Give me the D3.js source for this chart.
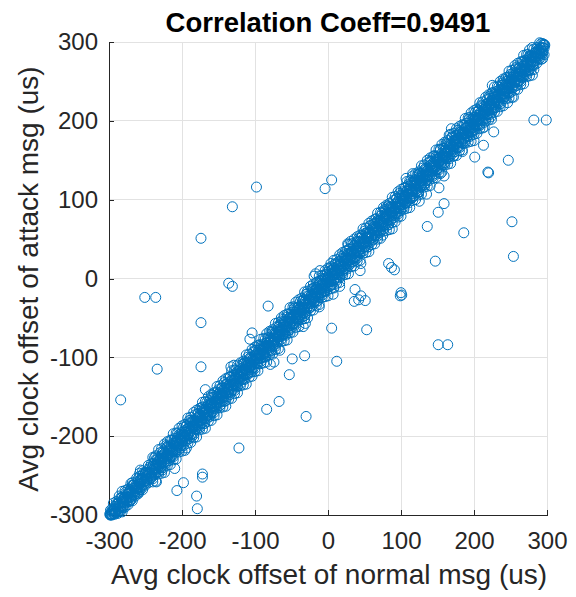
<!DOCTYPE html>
<html>
<head>
<meta charset="utf-8">
<script src="https://cdn.jsdelivr.net/npm/d3@7"></script>
<style>
  body { margin: 0; background: #fff; }
  svg { display: block; }
  text { font-family: "Liberation Sans", Arial, Helvetica, sans-serif; }
</style>
</head>
<body>
<svg id="chart" width="576" height="597"></svg>
<script>
// Labels and ticks
const chartTitle = "Correlation Coeff=0.9491";
const xLabel = "Avg clock offset of normal msg (us)";
const yLabel = "Avg clock offset of attack msg (us)";
const axisTicks = [-300, -200, -100, 0, 100, 200, 300];

// Paired samples along the main diagonal band (normal msg offset, attack msg offset)
const denseNormal = [
  -299,-298,-296,-295,-293,-292,-290,-289, -287,-286,-284,-283,-281,-280,-278,-277,
  -275,-274,-272,-271,-269,-268,-266,-265, -263,-262,-260,-259,-257,-256,-254,-253,
  -251,-250,-248,-247,-245,-244,-242,-241, -239,-238,-236,-235,-233,-232,-230,-229,
  -227,-226,-224,-223,-221,-220,-218,-217, -215,-214,-212,-211,-209,-208,-206,-205,
  -203,-202,-200,-199,-197,-196,-194,-193, -191,-190,-188,-187,-185,-184,-182,-181,
  -179,-178,-176,-175,-173,-172,-170,-169, -167,-166,-164,-163,-161,-160,-158,-157,
  -155,-154,-152,-151,-149,-148,-146,-145, -143,-142,-140,-139,-137,-136,-134,-133,
  -131,-130,-128,-127,-125,-124,-122,-121, -119,-118,-116,-115,-113,-112,-110,-109,
  -107,-106,-104,-103,-101,-100,-98,-97, -95,-94,-92,-91,-89,-88,-86,-85,
  -83,-82,-80,-79,-77,-76,-74,-73, -71,-70,-68,-67,-65,-64,-62,-61,
  -59,-58,-56,-55,-53,-52,-50,-49, -47,-46,-44,-43,-41,-40,-38,-37,
  -35,-34,-32,-31,-29,-28,-26,-25, -23,-22,-20,-19,-17,-16,-14,-13,
  -11,-10,-8,-7,-5,-4,-2,-1, 1,2,4,5,7,8,10,11,
  13,14,16,17,19,20,22,23, 25,26,28,29,31,32,34,35,
  37,38,40,41,43,44,46,47, 49,50,52,53,55,56,58,59,
  61,62,64,65,67,68,70,71, 73,74,76,77,79,80,82,83,
  85,86,88,89,91,92,94,95, 97,98,100,101,103,104,106,107,
  109,110,112,113,115,116,118,119, 121,122,124,125,127,128,130,131,
  133,134,136,137,139,140,142,143, 145,146,148,149,151,152,154,155,
  157,158,160,161,163,164,166,167, 169,170,172,173,175,176,178,179,
  181,182,184,185,187,188,190,191, 193,194,196,197,199,200,202,203,
  205,206,208,209,211,212,214,215, 217,218,220,221,223,224,226,227,
  229,230,232,233,235,236,238,239, 241,242,244,245,247,248,250,251,
  253,254,256,257,259,260,262,263, 265,266,268,269,271,272,274,275,
  277,278,280,281,283,284,286,287, 289,290,292,293,295,296
];
const denseAttack = [
  -299,-299,-293,-299,-292,-298,-286,-292, -295,-284,-289,-278,-291,-280,-281,-271,
  -282,-273,-283,-268,-271,-274,-262,-274, -263,-266,-254,-271,-255,-264,-249,-254,
  -257,-247,-258,-246,-248,-239,-250,-243, -235,-249,-236,-240,-227,-239,-228,-242,
  -228,-221,-233,-221,-225,-213,-224,-229, -212,-217,-220,-205,-209,-218,-202,-210,
  -204,-215,-195,-206,-195,-200,-187,-203, -190,-196,-180,-201,-187,-180,-191,-181,
  -183,-172,-187,-173,-180,-163,-171,-184, -164,-174,-159,-166,-173,-159,-151,-163,
  -165,-154,-144,-156,-145,-161,-148,-139, -151,-140,-155,-134,-141,-137,-125,-144,
  -130,-136,-121,-136,-122,-137,-125,-116, -126,-118,-128,-107,-115,-108,-120,-107,
  -112,-100,-118,-102,-109,-91,-101,-108, -91,-95,-101,-84,-95,-86,-99,-85,
  -78,-86,-90,-76,-92,-68,-76,-80, -70,-82,-62,-72,-66,-55,-70,-58,
  -70,-61,-49,-69,-51,-58,-45,-58, -47,-38,-51,-45,-54,-36,-48,-36,
  -29,-39,-47,-28,-37,-19,-27,-37, -21,-26,-13,-29,-18,-11,-28,-19,
  -3,-19,-7,-10,-17,0,-9,8, -4,5,-9,5,13,-2,8,18,
  5,16,1,22,15,9,30,22, 19,30,16,38,28,33,25,41,
  23,36,47,34,46,33,46,55, 44,40,57,52,40,58,67,51,
  62,50,70,61,60,72,68,58, 80,68,76,67,82,77,91,68,
  84,91,79,91,86,80,102,92, 89,102,86,102,110,98,95,110,
  107,119,102,118,111,103,118,125, 114,124,109,133,124,119,134,130,
  121,140,131,138,131,149,140,129, 148,140,155,138,151,148,164,146,
  156,144,165,155,171,161,155,169, 161,180,156,174,170,182,166,177,
  185,173,184,171,194,184,192,181, 202,188,195,182,204,189,205,200,
  197,212,195,210,219,207,198,215, 221,208,218,231,216,210,229,223,
  217,237,231,225,240,221,239,248, 235,231,246,242,255,235,250,257,
  244,257,251,266,245,259,267,256, 266,255,275,265,263,276,272,263,
  283,272,280,271,286,281,291,280, 291,285,293,289,297,296
];

// Tighter samples in the middle of the band
const coreNormal = [
  -297,-294,-291,-288,-285,-282,-279,-276,-273,-270,-267,-264,-261,
  -258,-255,-252,-249,-246,-243,-240,-237,-234,-231,-228,-225,-222,
  -219,-216,-213,-210,-207,-204,-201,-198,-195,-192,-189,-186,-183,
  -180,-177,-174,-171,-168,-165,-162,-159,-156,-153,-150,-147,-144,
  -141,-138,-135,-132,-129,-126,-123,-120,-117,-114,-111,-108,-105,
  -102,-99,-96,-93,-90,-87,-84,-81,-78,-75,-72,-69,-66,
  -63,-60,-57,-54,-51,-48,-45,-42,-39,-36,-33,-30,-27,
  -24,-21,-18,-15,-12,-9,-6,-3,0,3,6,9,12,
  15,18,21,24,27,30,33,36,39,42,45,48,51,
  54,57,60,63,66,69,72,75,78,81,84,87,90,
  93,96,99,102,105,108,111,114,117,120,123,126,129,
  132,135,138,141,144,147,150,153,156,159,162,165,168,
  171,174,177,180,183,186,189,192,195,198,201,204,207,
  210,213,216,219,222,225,228,231,234,237,240,243,246,
  249,252,255,258,261,264,267,270,273,276,279,282,285,
  288,291,294,297
];
const coreAttack = [
  -299,-293,-297,-285,-286,-289,-277,-280,-273,-277,-262,-266,-266,
  -261,-254,-258,-246,-247,-252,-238,-241,-234,-238,-225,-227,-227,
  -222,-215,-219,-207,-208,-210,-199,-202,-195,-199,-184,-188,-188,
  -183,-176,-180,-168,-169,-174,-160,-163,-156,-160,-147,-149,-149,
  -144,-137,-141,-129,-130,-133,-121,-124,-117,-121,-106,-110,-110,
  -105,-98,-102,-90,-91,-96,-82,-85,-78,-82,-69,-71,-71,
  -66,-59,-63,-51,-52,-54,-43,-46,-39,-43,-27,-32,-32,
  -27,-20,-24,-12,-13,-18,-4,-7,0,-4,11,7,7,
  12,19,15,27,26,23,35,32,39,35,51,46,46,
  51,58,54,66,65,60,74,71,78,74,87,85,85,
  90,97,93,105,104,98,113,110,117,113,129,124,124,
  129,136,132,144,143,141,152,149,156,152,167,163,163,
  168,175,171,183,182,177,191,188,195,191,204,202,202,
  207,214,210,222,221,215,230,227,234,230,246,241,241,
  246,253,249,261,260,257,269,266,273,269,282,280,280,
  285,292,288,296
];

// Normal-msg offsets shared by three attack-msg readings each (lower, middle, upper part of the band)
const bandNormal = [
  -298,-296,-294,-292,-290,-288,-286,-284,-282,-280,-278,-276,-274,-272,-270,-268,
  -266,-264,-262,-260,-258,-256,-254,-252,-250,-248,-246,-244,-242,-240,-238,-236,
  -234,-232,-230,-228,-226,-224,-222,-220,-218,-216,-214,-212,-210,-208,-206,-204,
  -202,-200,-198,-196,-194,-192,-190,-188,-186,-184,-182,-180,-178,-176,-174,-172,
  -170,-168,-166,-164,-162,-160,-158,-156,-154,-152,-150,-148,-146,-144,-142,-140,
  -138,-136,-134,-132,-130,-128,-126,-124,-122,-120,-118,-116,-114,-112,-110,-108,
  -106,-104,-102,-100,-98,-96,-94,-92,-90,-88,-86,-84,-82,-80,-78,-76,
  -74,-72,-70,-68,-66,-64,-62,-60,-58,-56,-54,-52,-50,-48,-46,-44,
  -42,-40,-38,-36,-34,-32,-30,-28,-26,-24,-22,-20,-18,-16,-14,-12,
  -10,-8,-6,-4,-2,0,2,4,6,8,10,12,14,16,18,20,
  22,24,26,28,30,32,34,36,38,40,42,44,46,48,50,52,
  54,56,58,60,62,64,66,68,70,72,74,76,78,80,82,84,
  86,88,90,92,94,96,98,100,102,104,106,108,110,112,114,116,
  118,120,122,124,126,128,130,132,134,136,138,140,142,144,146,148,
  150,152,154,156,158,160,162,164,166,168,170,172,174,176,178,180,
  182,184,186,188,190,192,194,196,198,200,202,204,206,208,210,212,
  214,216,218,220,222,224,226,228,230,232,234,236,238,240,242,244,
  246,248,250,252,254,256,258,260,262,264,266,268,270,272,274,276,
  278,280,282,284,286,288,290,292,294,296
];
const bandAttackLow = [
  -300,-300,-298,-299,-297,-298,-296,-295,-296,-289,-290,-284,-287,-282,-281,-282,
  -275,-276,-270,-273,-268,-267,-268,-261,-262,-256,-259,-254,-253,-254,-247,-248,
  -242,-245,-240,-239,-240,-233,-234,-228,-231,-226,-225,-226,-219,-220,-214,-217,
  -212,-211,-212,-205,-206,-200,-203,-198,-197,-198,-191,-192,-186,-189,-184,-183,
  -184,-177,-178,-172,-175,-170,-169,-170,-163,-164,-158,-161,-156,-155,-156,-149,
  -150,-144,-147,-142,-141,-142,-135,-136,-130,-133,-128,-127,-128,-121,-122,-116,
  -119,-114,-113,-114,-107,-108,-102,-105,-100,-99,-100,-93,-94,-88,-91,-86,
  -85,-86,-79,-80,-74,-77,-72,-71,-72,-65,-66,-60,-63,-58,-57,-58,
  -51,-52,-46,-49,-44,-43,-44,-37,-38,-32,-35,-30,-29,-30,-23,-24,
  -18,-21,-16,-15,-16,-9,-10,-4,-7,-2,-1,-2,5,4,10,7,
  12,13,12,19,18,24,21,26,27,26,33,32,38,35,40,41,
  40,47,46,52,49,54,55,54,61,60,66,63,68,69,68,75,
  74,80,77,82,83,82,89,88,94,91,96,97,96,103,102,108,
  105,110,111,110,117,116,122,119,124,125,124,131,130,136,133,138,
  139,138,145,144,150,147,152,153,152,159,158,164,161,166,167,166,
  173,172,178,175,180,181,180,187,186,192,189,194,195,194,201,200,
  206,203,208,209,208,215,214,220,217,222,223,222,229,228,234,231,
  236,237,236,243,242,248,245,250,251,250,257,256,262,259,264,265,
  264,271,270,276,273,278,279,278,285,284
];
const bandAttackMid = [
  -300,-299,-295,-296,-290,-293,-289,-290,-283,-284,-278,-281,-277,-278,-271,-272,
  -266,-269,-265,-266,-259,-260,-254,-257,-253,-254,-247,-248,-242,-245,-241,-242,
  -235,-236,-230,-233,-229,-230,-223,-224,-218,-221,-217,-218,-211,-212,-206,-209,
  -205,-206,-199,-200,-194,-197,-193,-194,-187,-188,-182,-185,-181,-182,-175,-176,
  -170,-173,-169,-170,-163,-164,-158,-161,-157,-158,-151,-152,-146,-149,-145,-146,
  -139,-140,-134,-137,-133,-134,-127,-128,-122,-125,-121,-122,-115,-116,-110,-113,
  -109,-110,-103,-104,-98,-101,-97,-98,-91,-92,-86,-89,-85,-86,-79,-80,
  -74,-77,-73,-74,-67,-68,-62,-65,-61,-62,-55,-56,-50,-53,-49,-50,
  -43,-44,-38,-41,-37,-38,-31,-32,-26,-29,-25,-26,-19,-20,-14,-17,
  -13,-14,-7,-8,-2,-5,-1,-2,5,4,10,7,11,10,17,16,
  22,19,23,22,29,28,34,31,35,34,41,40,46,43,47,46,
  53,52,58,55,59,58,65,64,70,67,71,70,77,76,82,79,
  83,82,89,88,94,91,95,94,101,100,106,103,107,106,113,112,
  118,115,119,118,125,124,130,127,131,130,137,136,142,139,143,142,
  149,148,154,151,155,154,161,160,166,163,167,166,173,172,178,175,
  179,178,185,184,190,187,191,190,197,196,202,199,203,202,209,208,
  214,211,215,214,221,220,226,223,227,226,233,232,238,235,239,238,
  245,244,250,247,251,250,257,256,262,259,263,262,269,268,274,271,
  275,274,281,280,286,283,287,286,293,292
];
const bandAttackHigh = [
  -294,-295,-285,-289,-283,-286,-276,-278,-278,-279,-269,-273,-267,-270,-260,-262,
  -262,-263,-253,-257,-251,-254,-244,-246,-246,-247,-237,-241,-235,-238,-228,-230,
  -230,-231,-221,-225,-219,-222,-212,-214,-214,-215,-205,-209,-203,-206,-196,-198,
  -198,-199,-189,-193,-187,-190,-180,-182,-182,-183,-173,-177,-171,-174,-164,-166,
  -166,-167,-157,-161,-155,-158,-148,-150,-150,-151,-141,-145,-139,-142,-132,-134,
  -134,-135,-125,-129,-123,-126,-116,-118,-118,-119,-109,-113,-107,-110,-100,-102,
  -102,-103,-93,-97,-91,-94,-84,-86,-86,-87,-77,-81,-75,-78,-68,-70,
  -70,-71,-61,-65,-59,-62,-52,-54,-54,-55,-45,-49,-43,-46,-36,-38,
  -38,-39,-29,-33,-27,-30,-20,-22,-22,-23,-13,-17,-11,-14,-4,-6,
  -6,-7,3,-1,5,2,12,10,10,9,19,15,21,18,28,26,
  26,25,35,31,37,34,44,42,42,41,51,47,53,50,60,58,
  58,57,67,63,69,66,76,74,74,73,83,79,85,82,92,90,
  90,89,99,95,101,98,108,106,106,105,115,111,117,114,124,122,
  122,121,131,127,133,130,140,138,138,137,147,143,149,146,156,154,
  154,153,163,159,165,162,172,170,170,169,179,175,181,178,188,186,
  186,185,195,191,197,194,204,202,202,201,211,207,213,210,220,218,
  218,217,227,223,229,226,236,234,234,233,243,239,245,242,252,250,
  250,249,259,255,261,258,268,266,266,265,275,271,277,274,284,282,
  282,281,291,287,293,290,299,298,298,297
];

// Outer rim of the band: normal-msg offsets with readings below and above the diagonal
const edgeNormal = [
  -240,-236,-232,-228,-224,-220,-216,-212,-208,-204,-200,-196,-192,-188,-184,-180,
  -176,-172,-168,-164,-160,-156,-152,-148,-144,-140,-136,-132,-128,-124,-120,-116,
  -112,-108,-104,-100,-96,-92,-88,-84,-80,-76,-72,-68,-64,-60,-56,-52,
  -48,-44,-40,-36,-32,-28,-24,-20,-16,-12,-8,-4,0,4,8,12,
  16,20,24,28,32,36,40,44,48,52,56,60,64,68,72,76,
  80,84,88,92,96,100,104,108,112,116,120,124,128,132,136,140,
  144,148,152,156,160,164,168,172,176,180,184,188,192,196,200,204,
  208,212,216,220,224,228,232,236,240,244,248,252,256,260,264,268,
  272,276,280
];
const edgeAttackLow = [
  -258,-257,-248,-247,-246,-237,-236,-230,-229,-220,-219,-218,-209,-208,-202,-201,
  -192,-191,-190,-181,-180,-174,-173,-164,-163,-162,-153,-152,-146,-145,-136,-135,
  -134,-125,-124,-118,-117,-108,-107,-106,-97,-96,-90,-89,-80,-79,-78,-69,
  -68,-62,-61,-52,-51,-50,-41,-40,-34,-33,-24,-23,-22,-13,-12,-6,
  -5,4,5,6,15,16,22,23,32,33,34,43,44,50,51,60,
  61,62,71,72,78,79,88,89,90,99,100,106,107,116,117,118,
  127,128,134,135,144,145,146,155,156,162,163,172,173,174,183,184,
  190,191,200,201,202,211,212,218,219,228,229,230,239,240,246,247,
  256,257,258
];
const edgeAttackHigh = [
  -227,-225,-217,-216,-210,-207,-205,-197,-196,-190,-187,-185,-177,-176,-170,-167,
  -165,-157,-156,-150,-147,-145,-137,-136,-130,-127,-125,-117,-116,-110,-107,-105,
  -97,-96,-90,-87,-85,-77,-76,-70,-67,-65,-57,-56,-50,-47,-45,-37,
  -36,-30,-27,-25,-17,-16,-10,-7,-5,3,4,10,13,15,23,24,
  30,33,35,43,44,50,53,55,63,64,70,73,75,83,84,90,
  93,95,103,104,110,113,115,123,124,130,133,135,143,144,150,153,
  155,163,164,170,173,175,183,184,190,193,195,203,204,210,213,215,
  223,224,230,233,235,243,244,250,253,255,263,264,270,273,275,283,
  284,290,293
];

// Loose samples at the band edges and far from the diagonal
const strayNormal = [
  -251,-236,-174,-131,-98,-4,5,-136,-131,-174,-82,-234,-174,-168,5,12,-53,-49,-32,-34,-79,-66,-104,-107,
  220,252,254,186,147,136,151,159,159,83,87,91,100,101,99,37,45,36,51,42,53,151,164,
  282,299,294,282,225,254,246,223,227,214,200,213,201,247,219,169,166,
  -284,-122,-194,-210,-235,-207,-198,-172,-172,-180,-179,-84,-67,-30,
  -257,-258,-268,-282,-227,-215,-74,-129,-133,-17,-11,4,-19,-12,-31,8,7,16,
  152,135,125,44,31,27,77,88,75,45,154,107,116,184,262,-270,-261
];
const strayAttack = [
  -24,-24,51,91,116,114,125,-6,-10,-56,-35,-115,-112,-141,-63,-105,-122,-102,-98,-61,-109,-91,-69,-77,
  134,72,28,58,22,66,84,95,130,19,14,11,-18,-21,-22,-14,-22,-29,-28,-27,-65,-84,-84,
  201,201,279,265,245,230,223,205,186,192,175,169,154,150,135,190,182,
  -154,-215,-215,-241,-258,-269,-259,-248,-252,-276,-292,-166,-156,-175,
  -243,-247,-259,-270,-243,-227,-106,-110,-112,6,10,19,3,-36,-57,-11,-20,-10,
  115,107,98,10,47,44,87,63,55,19,133,127,133,161,251,-281,-272
];

// Build one table of points for the scatter
const points = [];
const addPairs = (ns, as) => ns.forEach((v, i) => points.push({ normal: v, attack: as[i] }));
addPairs(denseNormal, denseAttack);
addPairs(coreNormal, coreAttack);
addPairs(bandNormal, bandAttackLow);
addPairs(bandNormal, bandAttackMid);
addPairs(bandNormal, bandAttackHigh);
addPairs(edgeNormal, edgeAttackLow);
addPairs(edgeNormal, edgeAttackHigh);
addPairs(strayNormal, strayAttack);

const svg = d3.select("#chart");
const axisColor = "#262626";
const markerColor = "#0072BD";

const x = d3.scaleLinear().domain([-300, 300]).range([109, 547]);
const y = d3.scaleLinear().domain([-300, 300]).range([515, 42]);

// Grid lines
const grid = svg.append("g").attr("shape-rendering", "crispEdges");
grid.selectAll("line.gx").data(axisTicks).join("line")
  .attr("class", "gx")
  .attr("x1", d => x(d)).attr("x2", d => x(d))
  .attr("y1", y(-300)).attr("y2", y(300))
  .attr("stroke", "#e2e2e2").attr("stroke-width", 1);
grid.selectAll("line.gy").data(axisTicks).join("line")
  .attr("class", "gy")
  .attr("y1", d => y(d)).attr("y2", d => y(d))
  .attr("x1", x(-300)).attr("x2", x(300))
  .attr("stroke", "#e2e2e2").attr("stroke-width", 1);

// Axes with inward ticks (left and bottom only)
const fmt = d => String(d);
const xAxis = svg.append("g")
  .attr("transform", `translate(0,${y(-300)})`)
  .call(d3.axisBottom(x).tickValues(axisTicks).tickFormat(fmt)
    .tickSizeInner(-5).tickSizeOuter(0).tickPadding(16.5));
const yAxis = svg.append("g")
  .attr("transform", `translate(${x(-300)},0)`)
  .call(d3.axisLeft(y).tickValues(axisTicks).tickFormat(fmt)
    .tickSizeInner(-5).tickSizeOuter(0).tickPadding(11));

[xAxis, yAxis].forEach(g => {
  g.attr("shape-rendering", "crispEdges");
  g.select(".domain").attr("stroke", axisColor).attr("stroke-width", 1);
  g.selectAll(".tick line").attr("stroke", axisColor).attr("stroke-width", 1);
  g.selectAll(".tick text")
    .attr("fill", axisColor)
    .style("font-size", "24px")
    .style("font-family", '"Liberation Sans", Arial, Helvetica, sans-serif');
});

// Scatter markers
svg.append("g")
  .selectAll("circle")
  .data(points)
  .join("circle")
  .attr("cx", d => x(d.normal))
  .attr("cy", d => y(d.attack))
  .attr("r", 5)
  .attr("fill", "none")
  .attr("stroke", markerColor)
  .attr("stroke-width", 1);

// Title and axis labels
svg.append("text")
  .attr("x", 328).attr("y", 31.5)
  .attr("text-anchor", "middle")
  .style("font-size", "27.5px").style("font-weight", "bold")
  .attr("fill", "#000")
  .text(chartTitle);

svg.append("text")
  .attr("x", 329).attr("y", 584)
  .attr("text-anchor", "middle")
  .style("font-size", "28px")
  .attr("fill", axisColor)
  .text(xLabel);

svg.append("text")
  .attr("transform", "translate(38,279) rotate(-90)")
  .attr("text-anchor", "middle")
  .style("font-size", "28px")
  .attr("fill", axisColor)
  .text(yLabel);
</script>
</body>
</html>
